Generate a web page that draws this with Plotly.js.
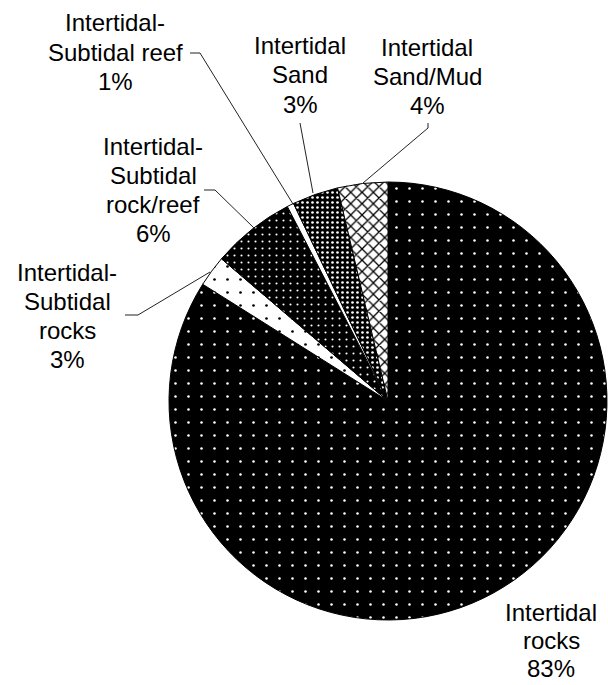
<!DOCTYPE html>
<html>
<head>
<meta charset="utf-8">
<script src="https://cdn.plot.ly/plotly-3.0.1.min.js"></script>
<style>html,body{margin:0;padding:0;background:#fff;}</style>
</head>
<body>
<div id="chart" style="width:608px;height:685px;"></div>
<script>
// Data (clockwise from 12 o'clock)
const categories = ["Intertidal rocks", "Intertidal-Subtidal rocks", "Intertidal-Subtidal rock/reef", "Intertidal-Subtidal reef", "Intertidal Sand", "Intertidal Sand/Mud"];
const values = [83.95, 2.3, 6.15, 0.5, 3.4, 3.7];
const labelLines = [
  ["Intertidal", "rocks"],
  ["Intertidal-", "Subtidal", "rocks"],
  ["Intertidal-", "Subtidal", "rock/reef"],
  ["Intertidal-", "Subtidal reef"],
  ["Intertidal", "Sand"],
  ["Intertidal", "Sand/Mud"]
];
const percentLabels = ["83%", "3%", "6%", "1%", "3%", "4%"];

// Styles
const bgColors = ["#000000", "#ffffff", "#000000", "#ffffff", "#000000", "#ffffff"];
const fgColors = ["#ffffff", "#000000", "#ffffff", "#000000", "#ffffff", "#000000"];
const shapes = [".", ".", ".", "", ".", "x"];
const sizes = [13, 13, 7, 8, 5, 8];
const solidities = [0.03, 0.035, 0.07, 0.1, 0.22, 0.3];

const W = 608, H = 685;
const fx = p => p / W;
const fy = p => 1 - p / H;
const FONT = {family: "Liberation Sans, Arial, sans-serif", size: 24, color: "#000000"};
const LINE = 29;

// label placement (pixels, block centre) and leader paths (pixels)
const labelPos = [[551, 640], [67, 316], [153, 190], [115, 52], [300, 75], [427, 76]];
const lineGap = [28, LINE, LINE, LINE, LINE, LINE];
const leaders = [
  null,
  [[125, 315], [138, 315], [210, 272]],
  [[204, 190], [215, 190], [254, 228]],
  [[190, 53], [200, 53], [293, 204]],
  [[300, 123], [313, 193]],
  [[428, 123], [428, 128], [363, 183]]
];

const trace = {
  type: "pie",
  labels: categories,
  values: values,
  sort: false,
  direction: "clockwise",
  rotation: 0,
  textinfo: "none",
  hoverinfo: "label+percent",
  domain: {x: [fx(169), fx(607)], y: [fy(620), fy(182)]},
  marker: {
    colors: bgColors,
    line: {color: "#000000", width: 1},
    pattern: {
      shape: shapes,
      bgcolor: bgColors,
      fgcolor: fgColors,
      size: sizes,
      solidity: solidities,
      fillmode: "replace"
    }
  }
};

const annotations = [];
labelLines.forEach((lines, i) => {
  const all = lines.concat([percentLabels[i]]);
  const n = all.length;
  all.forEach((t, j) => {
    annotations.push({
      xref: "paper", yref: "paper",
      x: fx(labelPos[i][0]),
      y: fy(labelPos[i][1] + (j - (n - 1) / 2) * lineGap[i]),
      xanchor: "center", yanchor: "middle",
      text: t,
      showarrow: false,
      borderpad: 0,
      font: FONT
    });
  });
});

const shapesLayout = leaders.filter(l => l).map(pts => ({
  type: "path",
  xref: "paper", yref: "paper",
  path: pts.map((p, j) => (j === 0 ? "M" : "L") + fx(p[0]) + "," + fy(p[1])).join(" "),
  line: {color: "#222222", width: 1}
}));

const layout = {
  width: W, height: H,
  margin: {l: 0, r: 0, t: 0, b: 0},
  showlegend: false,
  paper_bgcolor: "#ffffff",
  plot_bgcolor: "#ffffff",
  annotations: annotations,
  shapes: shapesLayout
};

Plotly.newPlot("chart", [trace], layout, {displayModeBar: false, staticPlot: true});
</script>
</body>
</html>
